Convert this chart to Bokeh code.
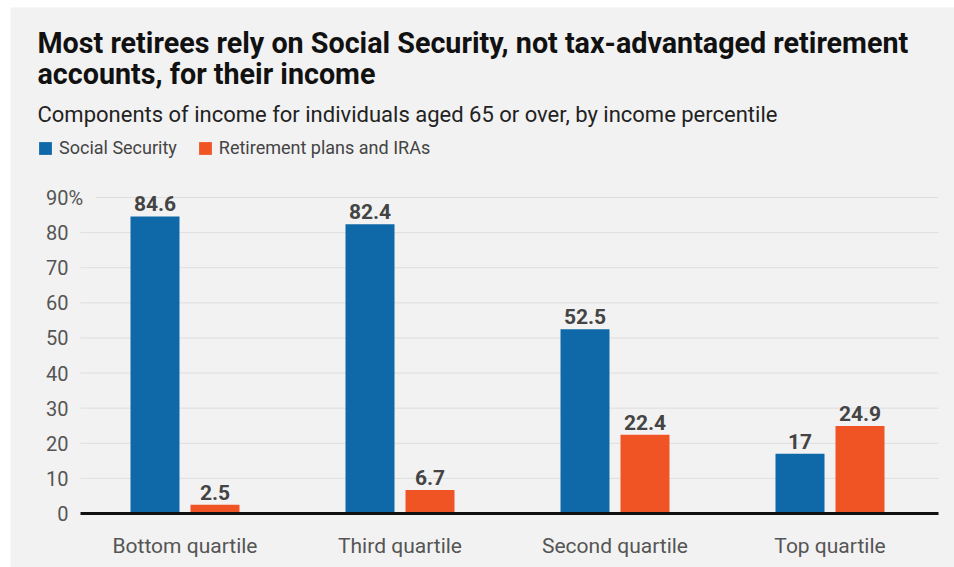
from bokeh.plotting import figure
from bokeh.models import Range1d, Legend, LegendItem, ColumnDataSource, BoxAnnotation
from bokeh.core.properties import value
from bokeh.embed import file_html
from bokeh.resources import INLINE
import numpy as np

# ---- data ----
categories = ["Bottom quartile", "Third quartile", "Second quartile", "Top quartile"]
social_security = [84.6, 82.4, 52.5, 17]
retirement_plans = [2.5, 6.7, 22.4, 24.9]
y_ticks = [0, 10, 20, 30, 40, 50, 60, 70, 80, 90]
title_lines = ["Most retirees rely on Social Security, not tax-advantaged retirement",
               "accounts, for their income"]
subtitle = "Components of income for individuals aged 65 or over, by income percentile"
series_names = ["Social Security", "Retirement plans and IRAs"]

# ---- layout (page pixels -> data) ----
FIG_W, FIG_H = 954, 567
X0_PX, DX_PX = 184.5, 215.0      # page x of first category, spacing
Y0_PX, DY_PX = 513.0, 3.511      # page y of value 0, px per unit

def X(px):
    return (px - X0_PX) / DX_PX

def Y(py):
    return (Y0_PX - py) / DY_PX

FONT = "Roboto"
BLUE = "#0f69a8"
ORANGE = "#f15424"
BG = "#f2f2f2"

p = figure(width=FIG_W, height=FIG_H, output_backend="svg", toolbar_location=None,
           x_range=Range1d(X(0), X(FIG_W)), y_range=Range1d(Y(FIG_H), Y(0)),
           min_border=0)
p.axis.visible = False
p.grid.visible = False
p.outline_line_color = None
p.background_fill_color = "white"
p.border_fill_color = "white"

# grey panel
p.add_layout(BoxAnnotation(left=X(10), right=X(FIG_W), top=Y(7), bottom=Y(FIG_H),
                           fill_color=BG, fill_alpha=1, line_color=None, level="underlay"))

# gridlines
grid_y = [t for t in y_ticks if t > 0]
grid_x0 = [X(95) if t == 90 else X(80) for t in grid_y]
p.segment(x0=grid_x0, x1=[X(938)] * len(grid_y), y0=grid_y, y1=grid_y,
          line_color="#dedede", line_width=1)

# bars
xs = np.arange(len(categories))
off = 30 / DX_PX
bw = 49 / DX_PX
src = ColumnDataSource(dict(
    xb=xs - off, xo=xs + off, ss=social_security, rp=retirement_plans,
    ssl=[f"{v:g}" for v in social_security], rpl=[f"{v:g}" for v in retirement_plans]))
r1 = p.vbar(x="xb", top="ss", width=bw, source=src, fill_color=BLUE, line_color=None)
r2 = p.vbar(x="xo", top="rp", width=bw, source=src, fill_color=ORANGE, line_color=None)

# axis baseline
p.segment(x0=[X(80)], x1=[X(938)], y0=[0], y1=[0], line_color="#111111", line_width=3)

# value labels
for xcol, ycol, lcol in (("xb", "ss", "ssl"), ("xo", "rp", "rpl")):
    p.text(x=xcol, y=ycol, text=lcol, source=src, y_offset=-5,
           text_align="center", text_baseline="bottom",
           text_font=value(FONT), text_font_style="bold", text_font_size="21px",
           text_color="#444444")

# y tick labels
p.text(x=[X(68)] * len(y_ticks), y=y_ticks, text=[str(t) for t in y_ticks],
       text_align="right", text_baseline="middle", text_font=value(FONT),
       text_font_size="20px", text_color="#555555")
p.text(x=[X(68)], y=[y_ticks[-1]], text=["%"], text_align="left", text_baseline="middle",
       text_font=value(FONT), text_font_size="20px", text_color="#555555")

# x category labels
p.text(x=xs, y=[Y(545)] * len(categories), text=categories, text_align="center",
       text_baseline="middle", text_font=value(FONT), text_font_size="21px",
       text_color="#555555")

# title and subtitle
p.text(x=[X(37)] * 2, y=[Y(42), Y(73)], text=title_lines, text_align="left",
       text_baseline="alphabetic", text_font=value(FONT), text_font_style="bold",
       text_font_size="28.7px", text_color="#111111")
p.text(x=[X(37)], y=[Y(114)], text=[subtitle], text_align="left",
       text_baseline="alphabetic", text_font=value(FONT), text_font_size="22px",
       text_color="#222222")

# legend
legend = Legend(items=[LegendItem(label=series_names[0], renderers=[r1]),
                       LegendItem(label=series_names[1], renderers=[r2])],
                orientation="horizontal", location=(37, FIG_H - 142 - 16),
                glyph_width=16, glyph_height=16, label_height=16, label_standoff=6,
                spacing=20, padding=0, margin=0, background_fill_alpha=0,
                border_line_color=None, label_text_font=FONT, label_text_font_size="18px",
                label_text_color="#444444", label_text_baseline="middle")
p.add_layout(legend)

open("out.html", "w").write(file_html(p, INLINE))
